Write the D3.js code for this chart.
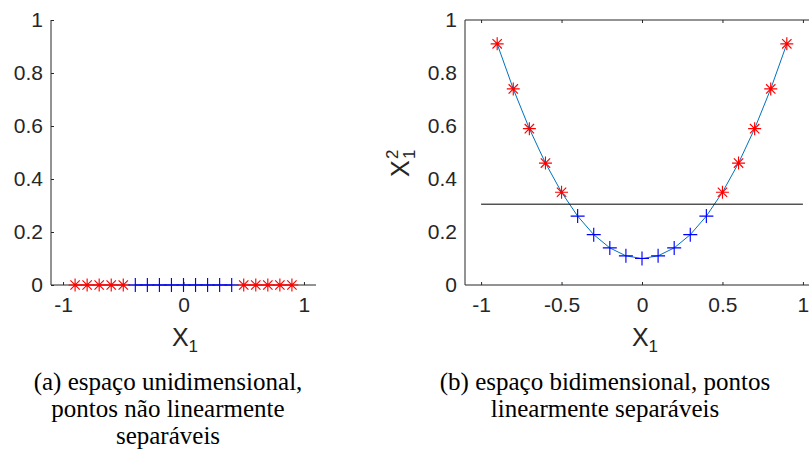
<!DOCTYPE html>
<html>
<head>
<meta charset="utf-8">
<script src="https://cdn.jsdelivr.net/npm/d3@7"></script>
<style>
  html, body { margin: 0; padding: 0; background: #fff; }
  svg { display: block; }
</style>
</head>
<body>
<svg id="fig" width="809" height="463"></svg>
<script>
// Sample points along X1
const xValues = [-0.9, -0.8, -0.7, -0.6, -0.5, -0.4, -0.3, -0.2, -0.1, 0, 0.1, 0.2, 0.3, 0.4, 0.5, 0.6, 0.7, 0.8, 0.9];
// Class of each point: "r" outer class (asterisk), "b" inner class (plus)
const classes = ["r", "r", "r", "r", "r", "b", "b", "b", "b", "b", "b", "b", "b", "b", "r", "r", "r", "r", "r"];
// Mapped feature for panel (b)
const x2Values = [0.91, 0.74, 0.59, 0.46, 0.35, 0.26, 0.19, 0.14, 0.11, 0.10, 0.11, 0.14, 0.19, 0.26, 0.35, 0.46, 0.59, 0.74, 0.91];
// Separating line in panel (b)
const separatorY = 0.305;
const separatorX = [-1, 1];

const yTicks = [0, 0.2, 0.4, 0.6, 0.8, 1];
const xTicksA = [-1, 0, 1];
const xTicksB = [-1, -0.5, 0, 0.5, 1];

const captionA = ["(a) espaço unidimensional,", "pontos não linearmente", "separáveis"];
const captionB = ["(b) espaço bidimensional, pontos", "linearmente separáveis"];

const svg = d3.select("#fig");
const AX = "#262626";
const RED = "#ff0000", BLUE = "#0000ff", LINE = "#0072bd";
const SANS = '"Liberation Sans"';
const SERIF = '"Liberation Serif"';
const TICK_FS = 21;
const fmt = d => String(d);   // plain hyphen for negatives

function asterisk(g, x, y, color) {
  const r = 6.5, d = r * 0.72;
  const p = d3.path();
  p.moveTo(x - r, y); p.lineTo(x + r, y);
  p.moveTo(x, y - r); p.lineTo(x, y + r);
  p.moveTo(x - d, y - d); p.lineTo(x + d, y + d);
  p.moveTo(x - d, y + d); p.lineTo(x + d, y - d);
  g.append("path").attr("d", p.toString()).attr("stroke", color).attr("stroke-width", 1.15).attr("fill", "none");
}
function plus(g, x, y, color) {
  const r = 7;
  const p = d3.path();
  p.moveTo(x - r, y); p.lineTo(x + r, y);
  p.moveTo(x, y - r); p.lineTo(x, y + r);
  g.append("path").attr("d", p.toString()).attr("stroke", color).attr("stroke-width", 1.15).attr("fill", "none");
}
function drawMarker(g, x, y, cls) {
  if (cls === "r") asterisk(g, x, y, RED); else plus(g, x, y, BLUE);
}

function styleTicks(g) {
  g.selectAll("text").attr("font-family", null).style("font-family", SANS)
    .attr("font-size", TICK_FS).attr("fill", AX);
}

function axisLabelX1(g, x, y) {
  const t = g.append("text").attr("x", x).attr("y", y).style("font-family", SANS)
    .attr("font-size", 25).attr("fill", AX).attr("text-anchor", "middle");
  t.append("tspan").text("X");
  t.append("tspan").attr("font-size", 17).attr("dy", 6).text("1");
}

// ---------- captions (drawn first) ----------
function caption(lines, cx) {
  lines.forEach((s, i) => {
    svg.append("text").attr("x", cx).attr("y", 390 + i * 27)
      .attr("text-anchor", "middle")
      .style("font-family", SERIF)
      .attr("font-size", 25).attr("fill", "#000")
      .text(s);
  });
}
caption(captionA, 168);
caption(captionB, 605);

// ---------- panel (a): one-dimensional ----------
const pa = svg.append("g");
const xa = d3.scaleLinear().domain([-1.1, 1.1]).range([51, 316]);
const ya = d3.scaleLinear().domain([0, 1]).range([285, 20]);

pa.append("g").attr("transform", "translate(51,0)")
  .call(d3.axisLeft(ya).tickValues(yTicks).tickSize(-3).tickPadding(8).tickFormat(fmt))
  .call(g => g.select(".domain").attr("d", `M0,${ya(0)}V${ya(1)}`).attr("stroke", AX))
  .call(g => g.selectAll(".tick line").attr("stroke", AX))
  .call(styleTicks);

pa.append("g").attr("transform", `translate(0,${ya(0)})`)
  .call(d3.axisBottom(xa).tickValues(xTicksA).tickSize(-3).tickPadding(12).tickFormat(fmt))
  .call(g => g.select(".domain").attr("d", `M${xa.range()[0]},0H${xa.range()[1]}`).attr("stroke", AX))
  .call(g => g.selectAll(".tick line").attr("stroke", AX))
  .call(styleTicks);

// segments joining points of the same class along the axis
const segA = d3.line().x(d => xa(d)).y(() => ya(0));
pa.append("path").attr("d", segA(xValues.filter((d, i) => classes[i] === "b")))
  .attr("stroke", BLUE).attr("stroke-width", 1.2).attr("fill", "none");
pa.append("path").attr("d", segA(xValues.filter((d, i) => classes[i] === "r" && d < 0)))
  .attr("stroke", RED).attr("stroke-width", 1.2).attr("fill", "none");
pa.append("path").attr("d", segA(xValues.filter((d, i) => classes[i] === "r" && d > 0)))
  .attr("stroke", RED).attr("stroke-width", 1.2).attr("fill", "none");
xValues.forEach((d, i) => drawMarker(pa, xa(d), ya(0), classes[i]));

axisLabelX1(pa, 185, 346);

// ---------- panel (b): two-dimensional ----------
const pb = svg.append("g");
const xb = d3.scaleLinear().domain([-1.1, 1.1]).range([465, 819]);
const yb = d3.scaleLinear().domain([0, 1]).range([285, 20]);

pb.append("g").attr("transform", "translate(465,0)")
  .call(d3.axisLeft(yb).tickValues(yTicks).tickSize(0).tickPadding(8).tickFormat(fmt))
  .call(g => g.select(".domain").attr("d", `M0,${yb(0)}V${yb(1)}`).attr("stroke", AX))
  .call(styleTicks);

pb.append("g").attr("transform", `translate(0,${yb(0)})`)
  .call(d3.axisBottom(xb).tickValues(xTicksB).tickSize(-3).tickPadding(12).tickFormat(fmt))
  .call(g => g.select(".domain").attr("d", `M${xb.range()[0]},0H${xb.range()[1]}`).attr("stroke", AX))
  .call(g => g.selectAll(".tick line").attr("stroke", AX))
  .call(styleTicks);

pb.append("g").attr("transform", `translate(0,${yb(1)})`)
  .call(d3.axisTop(xb).tickValues(xTicksB).tickSize(-3).tickFormat(""))
  .call(g => g.select(".domain").attr("d", `M${xb.range()[0]},0H${xb.range()[1]}`).attr("stroke", AX))
  .call(g => g.selectAll(".tick line").attr("stroke", AX));

// curve through the mapped points
pb.append("path")
  .attr("d", d3.line().x(d => xb(d[0])).y(d => yb(d[1]))(xValues.map((d, i) => [d, x2Values[i]])))
  .attr("stroke", LINE).attr("stroke-width", 1).attr("fill", "none");

// separating line
pb.append("line")
  .attr("x1", xb(separatorX[0])).attr("x2", xb(separatorX[1]))
  .attr("y1", yb(separatorY)).attr("y2", yb(separatorY))
  .attr("stroke", "#000").attr("stroke-width", 1);

xValues.forEach((d, i) => drawMarker(pb, xb(d), yb(x2Values[i]), classes[i]));

axisLabelX1(pb, 645, 346);

// y label X1^2, rotated
const yl = pb.append("g").attr("transform", "translate(409,177) rotate(-90)");
yl.append("text").attr("x", 0).attr("y", 0).style("font-family", SANS)
  .attr("font-size", 25).attr("fill", AX).text("X");
yl.append("text").attr("x", 18).attr("y", -11).style("font-family", SANS)
  .attr("font-size", 17).attr("fill", AX).text("2");
yl.append("text").attr("x", 18).attr("y", 6).style("font-family", SANS)
  .attr("font-size", 17).attr("fill", AX).text("1");
</script>
</body>
</html>
